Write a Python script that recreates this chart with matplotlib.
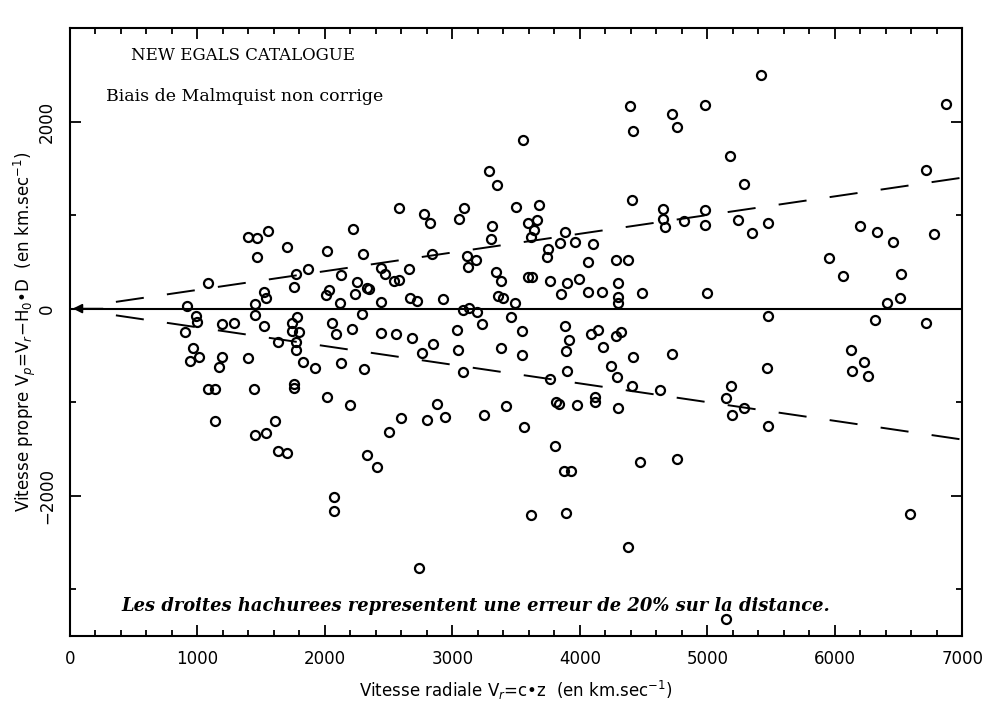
import numpy as np
import matplotlib
matplotlib.use('Agg')
import matplotlib.pyplot as plt
from matplotlib.ticker import MultipleLocator

# radial velocity (km/s) and peculiar velocity (km/s) of the galaxies
vr = [1400, 1470, 1550, 1470, 1705, 2220, 2020, 2295, 1870, 1770,
      1755, 1080, 2130, 2255, 2235, 2330, 2030, 2005, 1525, 1535,
      1455, 920, 985, 1000, 905, 1190, 1290, 1455, 1520, 1740,
      1780, 1745, 1800, 2115, 2055, 2085, 2210, 2290, 965, 945,
      1015, 1195, 1170, 1400, 1630, 1775, 1775, 1825, 1925, 2130,
      2305, 1080, 1140, 1445, 1755, 1755, 2015, 2200, 1140, 1455,
      1540, 1605, 1630, 1700, 2330, 2075, 2075,
      2345, 2440, 2470, 2540, 2580, 2660, 2580, 2775, 2825, 3090,
      3050, 2840, 3115, 3185, 3120, 3290, 3350, 3555, 3310, 3305,
      3500, 3680, 3595, 3665, 3640, 3620, 3885, 3845, 3965, 4105,
      3750, 3745, 4065, 4285, 4380, 4395, 4420, 4410, 3345, 3380,
      3595, 3625, 3765, 3900, 3995, 3855, 4065, 4175, 4300, 4300,
      4300, 4490, 2440, 2665, 2720, 2925, 3360, 3400, 3490, 3085,
      3130, 3195, 3460, 3235, 3035, 3545, 3885, 4090, 4145, 4285,
      4325, 2440, 2555, 2680, 2845, 2760, 3045, 3085, 3380, 3545,
      3915, 3895, 3900, 3765, 4185, 4245, 4295, 4420, 4410, 4630,
      4725, 3815, 3840, 3980, 4120, 4120, 4300, 2880, 2940, 2800,
      2595, 2500, 3250, 3420, 3565, 3805, 4475, 2405, 2735, 3620,
      3895, 3875, 3930, 4380, 4650, 4655, 4665, 4720, 4765,
      4820, 4980, 4985, 4985, 5425, 5175, 5285, 5240, 5350, 5480,
      4995, 5185, 5145, 5190, 5285, 5465, 5475, 5475, 4765, 5145,
      6195, 6330, 6455, 6780, 5955, 6065, 6520, 6510, 6410, 6315,
      6715, 6125, 6230, 6135, 6260, 6590, 6875, 6715]
vp = [770, 750, 830, 550, 660, 850, 620, 580, 420, 370,
      230, 270, 360, 285, 160, 220, 195, 150, 175, 110,
      50, 30, -75, -140, -245, -165, -150, -65, -185, -150,
      -95, -235, -245, 65, -155, -275, -215, -55, -425, -555,
      -515, -515, -620, -530, -360, -360, -445, -575, -630, -580,
      -650, -855, -855, -860, -805, -850, -950, -1030, -1205, -1350,
      -1330, -1205, -1525, -1545, -1560, -2010, -2160,
      210, 430, 365, 290, 310, 425, 1080, 1015, 915, 1080,
      955, 580, 560, 515, 445, 1470, 1320, 1800, 885, 745,
      1090, 1110, 920, 950, 845, 770, 815, 700, 710, 695,
      640, 555, 495, 520, 520, 2170, 1895, 1165, 395, 300,
      335, 335, 290, 275, 315, 160, 175, 175, 275, 120,
      55, 165, 70, 115, 85, 100, 140, 110, 55, -10,
      10, -35, -95, -165, -225, -235, -190, -270, -230, -295,
      -255, -260, -275, -310, -375, -470, -445, -680, -420, -500,
      -340, -455, -670, -750, -410, -615, -730, -520, -830, -875,
      -485, -995, -1015, -1030, -950, -1000, -1060, -1015, -1155, -1190,
      -1165, -1320, -1140, -1045, -1265, -1470, -1635, -1690, -2770, -2210,
      -2185, -1740, -1740, -2545, 1065, 955, 870, 2080, 1940,
      940, 1055, 895, 2180, 2495, 1635, 1335, 945, 805, 915,
      165, -825, -960, -1135, -1060, -640, -1255, -80, -1610, -3315,
      880, 820, 710, 800, 545, 350, 370, 115, 55, -120,
      -155, -445, -575, -670, -725, -2195, 2185, 1480]

err = 0.2          # 20% error on the distance
line_x = [360, 7000]

fig = plt.figure(figsize=(9.93, 7.09), dpi=100)
ax = fig.add_axes([0.0705, 0.103, 0.8985, 0.8575])

ax.plot(vr, vp, 'o', mfc='none', mec='black', ms=6.5, mew=1.6)
ax.plot([0, 7000], [0, 0], color='black', lw=1.5)
ax.annotate('', xy=(0, 0), xytext=(280, 0),
            arrowprops=dict(arrowstyle='-|>', color='black', lw=1.2,
                            mutation_scale=14))
for s in (err, -err):
    ax.plot(line_x, [s * v for v in line_x], color='black', lw=1.4,
            dashes=(14.5, 12))

ax.set_xlim(0, 7000)
ax.set_ylim(-3500, 3000)
ax.xaxis.set_major_locator(MultipleLocator(1000))
ax.xaxis.set_minor_locator(MultipleLocator(200))
ax.yaxis.set_minor_locator(MultipleLocator(1000))
ax.set_yticks([-2000, 0, 2000])
ax.set_yticklabels(['\u22122000', '0', '2000'], rotation=90, va='center')
ax.tick_params(which='both', direction='in', top=True, right=True,
               labelsize=12, width=1.3)
ax.tick_params(which='major', length=8)
ax.tick_params(which='minor', length=4)
ax.tick_params(axis='x', pad=10)
ax.tick_params(axis='y', pad=10)
for sp in ax.spines.values():
    sp.set_linewidth(1.5)

ax.set_xlabel('Vitesse radiale V$_r$=c\u2022z  (en km.sec$^{-1}$)',
              fontsize=12, labelpad=8)
ax.set_ylabel('Vitesse propre V$_p$=V$_r$\u2212H$_0$\u2022D  (en km.sec$^{-1}$)',
              fontsize=12, labelpad=0)

ax.text(0.068, 0.955, 'NEW EGALS CATALOGUE', transform=ax.transAxes,
        family='DejaVu Serif', fontsize=12, va='center')
ax.text(0.04, 0.888, 'Biais de Malmquist non corrige', transform=ax.transAxes,
        family='DejaVu Serif', fontsize=12.5, va='center')
ax.text(0.058, 0.05,
        'Les droites hachurees representent une erreur de 20% sur la distance.',
        transform=ax.transAxes, family='DejaVu Serif', style='italic',
        weight='semibold', fontsize=12.9, va='center')

fig.savefig('out.png', dpi=100)
